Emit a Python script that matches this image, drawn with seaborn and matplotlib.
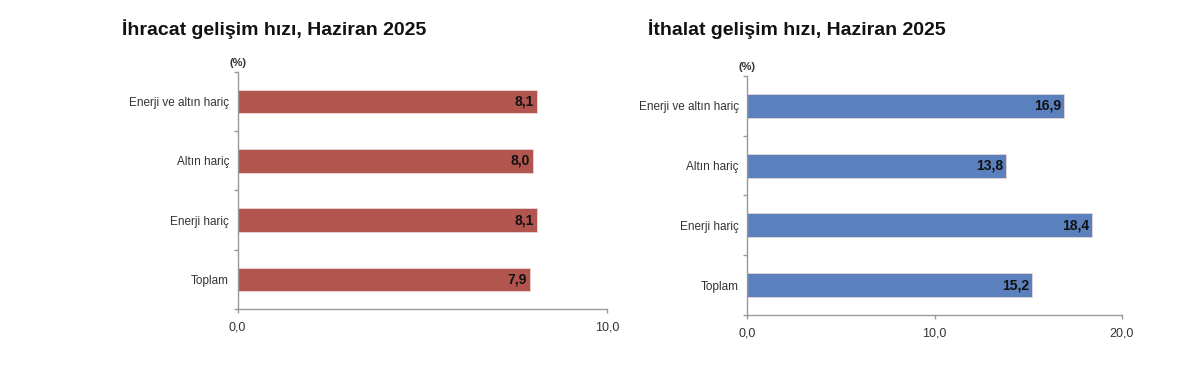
import matplotlib
matplotlib.use("Agg")
import matplotlib.pyplot as plt
import numpy as np
import pandas as pd
import seaborn as sns

# veriler
kategoriler = ["Enerji ve altın hariç", "Altın hariç", "Enerji hariç", "Toplam"]
ihracat = [8.1, 8.0, 8.1, 7.9]
ithalat = [16.9, 13.8, 18.4, 15.2]
ihracat_ticks = [0, 10]
ithalat_ticks = [0, 10, 20]

sns.set_style("white")
plt.rcParams["font.family"] = ["Liberation Sans", "DejaVu Sans"]

fig = plt.figure(figsize=(12, 3.67), dpi=100)
ax1 = fig.add_axes([0.198, 0.158, 0.308, 0.646])
ax2 = fig.add_axes([0.6225, 0.142, 0.3125, 0.651])


def ciz(ax, degerler, renk, ticks, baslik, baslik_x):
    df = pd.DataFrame({"kat": kategoriler, "deger": degerler})
    sns.barplot(data=df, x="deger", y="kat", orient="h", color=renk,
                width=0.4, saturation=1, edgecolor="#e8d8d8", linewidth=0.6, ax=ax)
    ax.set_xlim(ticks[0], ticks[-1])
    ax.set_ylim(3.5, -0.5)
    ax.set_xticks(ticks)
    ax.set_xticklabels([f"{t:.1f}".replace(".", ",") for t in ticks],
                       fontsize=9, color="#333333")
    # kategori sınırlarında tik, ortada etiket
    ax.set_yticks(np.arange(-0.5, len(kategoriler), 1))
    ax.set_yticklabels([])
    ax.set_yticks(np.arange(len(kategoriler)), minor=True)
    ax.set_yticklabels(kategoriler, minor=True, fontsize=8.5, color="#333333")
    ax.tick_params(axis="y", which="minor", left=False, length=0, pad=6)
    ax.tick_params(axis="y", which="major", left=True, length=3, width=1,
                   color="#999999", direction="out")
    ax.tick_params(axis="x", bottom=True, length=3, width=1, color="#999999",
                   direction="out", pad=6)
    ax.set_xlabel("")
    ax.set_ylabel("")
    for s in ["top", "right"]:
        ax.spines[s].set_visible(False)
    for s in ["left", "bottom"]:
        ax.spines[s].set_color("#999999")
        ax.spines[s].set_linewidth(1.0)
    for i, v in enumerate(degerler):
        ax.text(v - ticks[-1] * 0.008, i, f"{v:.1f}".replace(".", ","),
                ha="right", va="center", fontsize=10, fontweight="bold", color="#111111")
    ax.text(0, 1.015, "(%)", transform=ax.transAxes, ha="center", va="bottom",
            fontsize=8, fontweight="bold", color="#333333")
    fig.text(baslik_x, 0.92, baslik, ha="left", va="center",
             fontsize=14, fontweight="bold", color="#111111")


ciz(ax1, ihracat, "#B3554F", ihracat_ticks, "İhracat gelişim hızı, Haziran 2025", 0.102)
ciz(ax2, ithalat, "#5A80BD", ithalat_ticks, "İthalat gelişim hızı, Haziran 2025", 0.54)

fig.savefig("out.png", dpi=100, facecolor="white")
